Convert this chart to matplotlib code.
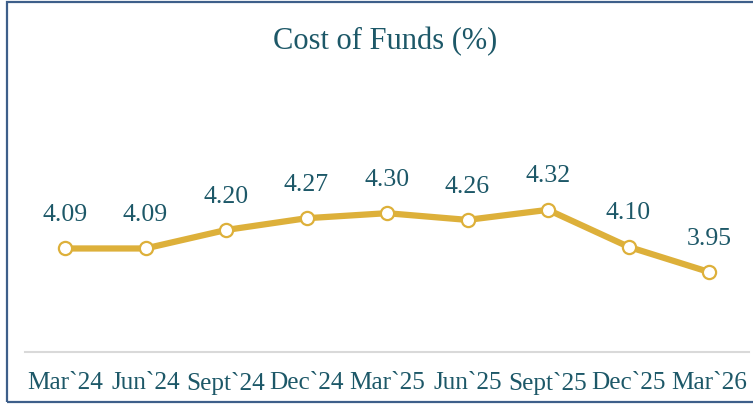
import matplotlib.pyplot as plt
from matplotlib.patches import Rectangle

# Data
quarters = ["Mar`24", "Jun`24", "Sept`24", "Dec`24", "Mar`25",
            "Jun`25", "Sept`25", "Dec`25", "Mar`26"]
cost_of_funds = [4.09, 4.09, 4.20, 4.27, 4.30, 4.26, 4.32, 4.10, 3.95]

text_color = "#1D5868"
line_color = "#DDB03A"

plt.rcParams["font.family"] = ["Liberation Serif", "DejaVu Serif"]

fig = plt.figure(figsize=(7.53, 4.04), dpi=100)
ax = fig.add_axes([24.75 / 753, 1 - 352 / 404, 724.5 / 753, 282 / 404])

x = list(range(len(quarters)))
ax.plot(x, cost_of_funds, color=line_color, lw=4.5, marker="o", ms=9.5,
        mfc="white", mec=line_color, mew=1.6, zorder=3, solid_capstyle="round")

for xi, v in zip(x, cost_of_funds):
    ax.annotate(f"{v:.2f}", (xi, v), xytext=(0, 24), textcoords="offset points",
                ha="center", va="center", fontsize=18.5, color=text_color)

ax.set_xlim(-0.5, len(quarters) - 0.5)
ax.set_ylim(3.474, 5.152)
ax.set_xticks(x)
ax.set_xticklabels(quarters, fontsize=18.2, color=text_color)
ax.set_yticks([])
ax.tick_params(axis="x", length=0, pad=14.5)
for side in ["top", "right", "left"]:
    ax.spines[side].set_visible(False)
ax.spines["bottom"].set_color("#D9D9D9")
ax.spines["bottom"].set_linewidth(1.5)

fig.text(385 / 753, 1 - 42 / 404, "Cost of Funds (%)", ha="center", va="center",
         fontsize=22, color=text_color)

# outer frame
fig.patches.append(Rectangle((7 / 753, 2 / 404), 1.0, 400 / 404,
                             transform=fig.transFigure, fill=False,
                             edgecolor="#3E5F8A", lw=1.6))

fig.savefig("out.png", dpi=100)
